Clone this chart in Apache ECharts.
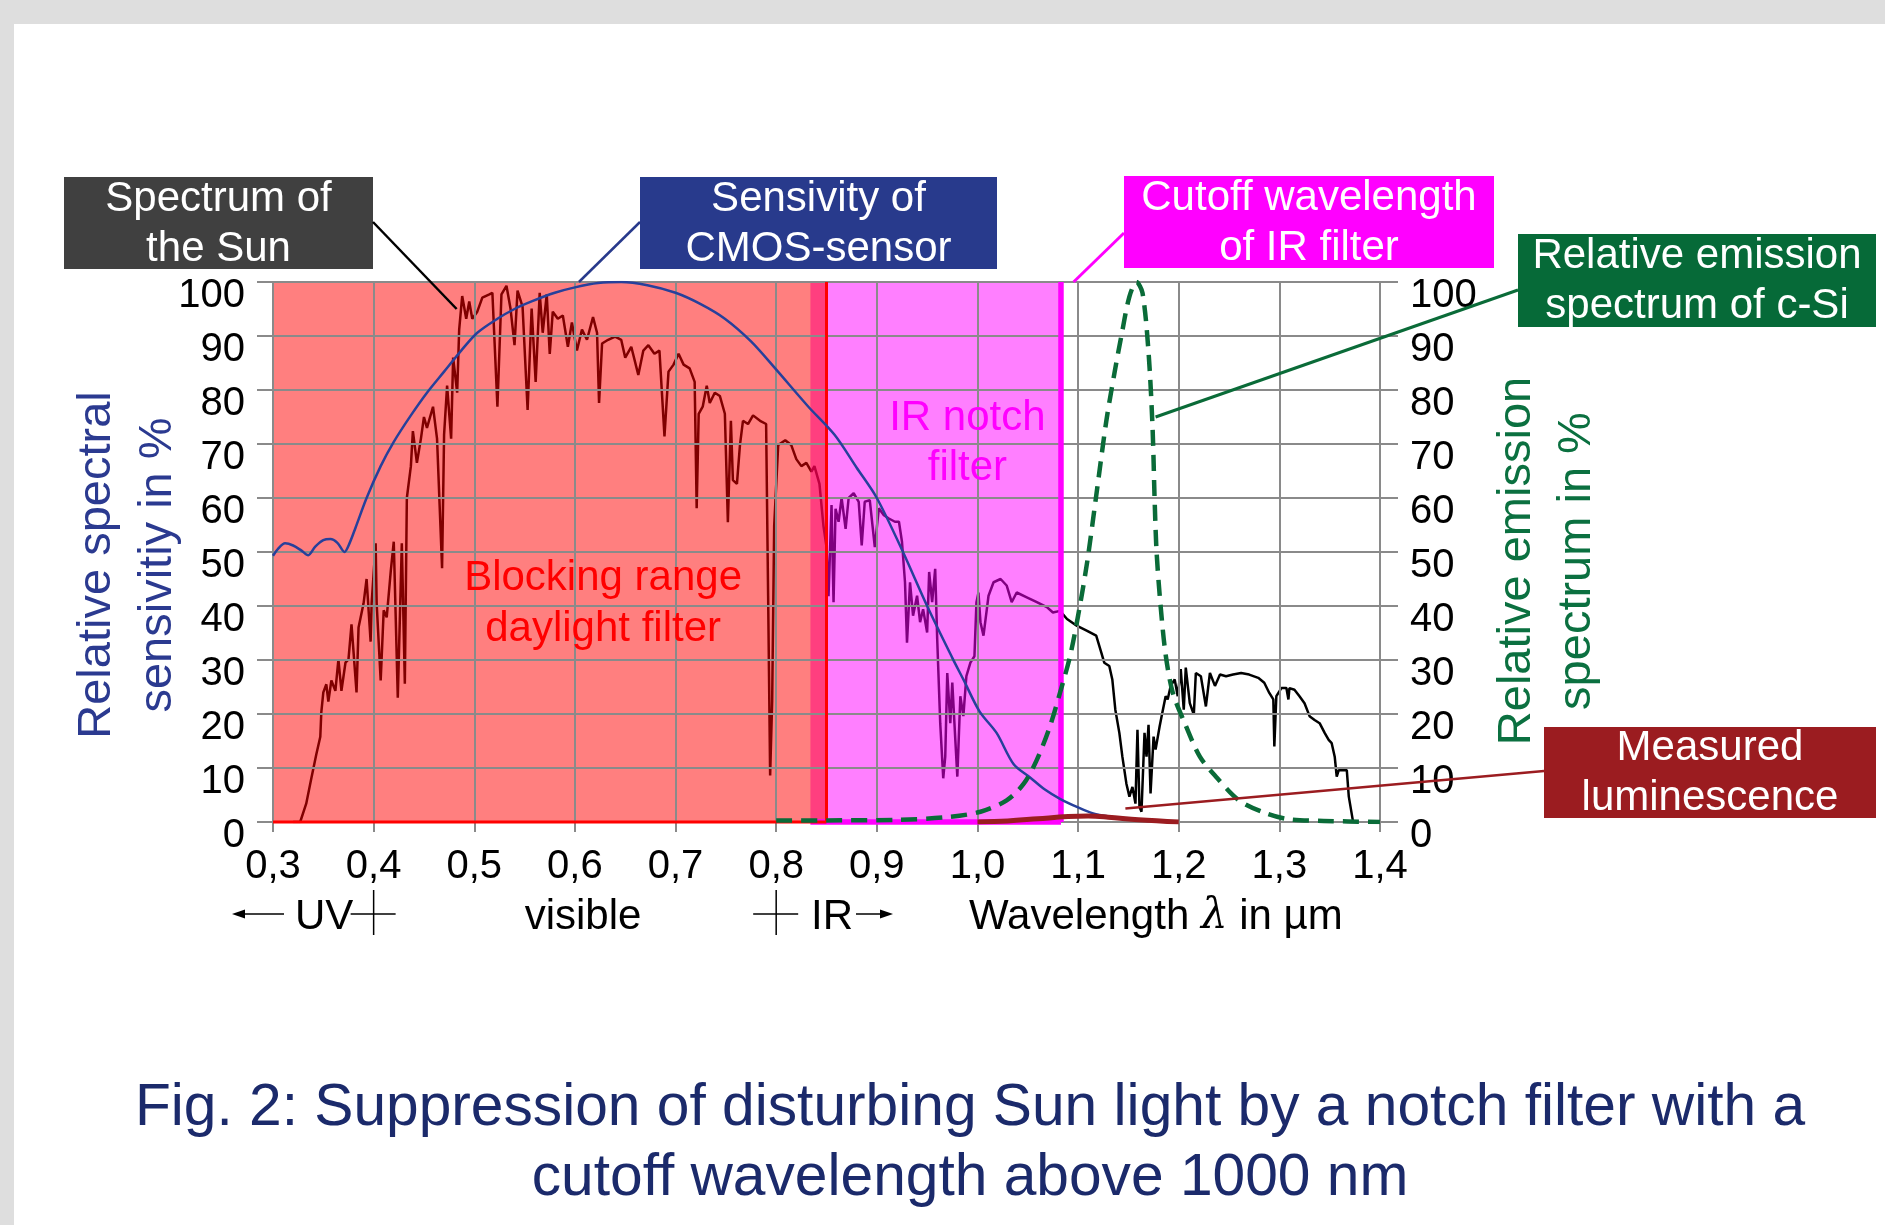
<!DOCTYPE html>
<html>
<head>
<meta charset="utf-8">
<script src="https://cdn.jsdelivr.net/npm/echarts@6/dist/echarts.min.js"></script>
<style>
html,body{margin:0;padding:0;background:#dedede;width:1885px;height:1225px;overflow:hidden;}
#paper{position:absolute;left:14px;top:24px;right:0;bottom:0;background:#fff;}
#chart{position:absolute;left:0;top:0;width:1885px;height:1225px;}
</style>
</head>
<body>
<div id="paper"></div>
<div id="chart"></div>
<script>
// ---------------- data ----------------
const xTickLabels = ['0,3','0,4','0,5','0,6','0,7','0,8','0,9','1,0','1,1','1,2','1,3','1,4'];
const yTickLabels = ['0','10','20','30','40','50','60','70','80','90','100'];

// wavelength (µm), relative value (%)
const sunSpectrum = [
[0.320,0],[0.327,0],[0.333,3.4],[0.338,8],[0.343,12.5],[0.347,15.8],[0.348,20.3],[0.350,24],[0.353,25.5],[0.355,22.3],
[0.358,26.2],[0.362,24.3],[0.365,30.1],[0.368,24.3],[0.372,29.5],[0.375,30.1],[0.378,36.6],[0.383,24],[0.385,36],[0.390,40.5],
[0.393,45],[0.397,33.4],[0.398,40.5],[0.402,51.6],[0.403,40.5],[0.407,26.2],[0.410,39.2],[0.413,37.9],[0.417,46.4],[0.420,51.9],
[0.424,23],[0.428,51.6],[0.431,25.6],[0.433,60],[0.437,65.9],[0.439,72.4],[0.443,66.5],[0.447,71],[0.450,75],[0.453,73],
[0.459,76.9],[0.463,71],[0.468,47],[0.470,71.7],[0.473,80.8],[0.477,71],[0.479,86],[0.483,79.5],[0.485,91.2],[0.488,97.4],
[0.492,93.2],[0.495,96.4],[0.498,93.2],[0.503,94.5],[0.508,97.1],[0.515,97.7],[0.518,98],[0.523,76.9],[0.527,97.7],[0.532,99.3],
[0.536,95.1],[0.540,88.3],[0.543,98.4],[0.548,95.4],[0.553,76.3],[0.557,95.1],[0.561,81.5],[0.565,98],[0.568,90.6],[0.572,97.7],
[0.575,86.7],[0.578,94.5],[0.583,93.2],[0.588,93.8],[0.593,88],[0.597,92.5],[0.602,87.3],[0.607,91.2],[0.612,89.3],[0.618,93.5],
[0.622,90.6],[0.624,77.6],[0.627,88.6],[0.633,89.3],[0.640,89.9],[0.646,89.3],[0.650,86],[0.656,88],[0.663,82.8],[0.668,87.3],
[0.673,88.3],[0.679,86.7],[0.684,87.3],[0.689,71.4],[0.693,83.4],[0.698,84.7],[0.703,86.7],[0.708,84.7],[0.714,84],[0.719,81.5],
[0.721,58.1],[0.723,75.6],[0.727,76.9],[0.731,80.8],[0.734,77.6],[0.739,79.5],[0.744,78.9],[0.749,75.6],[0.752,55.5],[0.755,74.3],
[0.757,63.3],[0.761,62.6],[0.764,69.8],[0.767,74.3],[0.772,73.7],[0.777,75.3],[0.784,74.3],[0.790,73.7],[0.792,41.8],[0.794,8.6],
[0.796,22.3],[0.798,54.8],[0.802,69.8],[0.809,70.7],[0.815,69.8],[0.820,67.2],[0.825,65.9],[0.830,66.5],[0.835,64.9],[0.838,65.9],
[0.843,62.6],[0.847,54.8],[0.850,50.9],[0.852,41.8],[0.855,58.7],[0.857,40.7],[0.859,58],[0.862,55.6],[0.865,60],[0.869,54.3],
[0.872,60],[0.877,60.9],[0.882,59.3],[0.885,51.2],[0.888,59.3],[0.893,59.6],[0.898,50.9],[0.902,58.1],[0.907,56.8],[0.912,56.2],
[0.918,55.6],[0.922,55.6],[0.925,51.9],[0.928,44.4],[0.930,33.2],[0.933,44.4],[0.936,38.2],[0.940,41.9],[0.943,37],[0.946,39.4],
[0.950,35.1],[0.952,46.3],[0.955,40.7],[0.958,46.9],[0.960,33.9],[0.963,18.3],[0.966,8.1],[0.968,12.1],[0.970,27.6],[0.973,18.3],
[0.975,25.8],[0.978,15.2],[0.980,8.4],[0.983,23.3],[0.986,19.6],[0.989,27],[0.993,29.5],[0.997,30.7],[0.999,40.7],[1.001,42.5],
[1.003,37],[1.006,34.5],[1.011,41.9],[1.016,44.4],[1.023,45],[1.029,43.8],[1.034,40.7],[1.039,42.5],[1.049,41.6],[1.059,40.7],
[1.069,39.8],[1.075,38.8],[1.082,39.1],[1.089,37.6],[1.099,36.3],[1.109,35.4],[1.118,34.5],[1.123,31.4],[1.126,29.5],[1.131,28.9],
[1.134,26.4],[1.137,20.8],[1.141,16.5],[1.144,12.1],[1.148,7.1],[1.151,4.7],[1.154,6.5],[1.157,3.4],[1.159,17.1],[1.161,2.8],
[1.163,1.9],[1.166,16.5],[1.168,12.1],[1.170,18],[1.172,5.3],[1.175,15.8],[1.177,13.4],[1.181,17.7],[1.183,19.6],[1.187,23.3],
[1.189,22.7],[1.192,25.2],[1.196,26.4],[1.199,23.3],[1.202,28.3],[1.205,20.8],[1.207,28.6],[1.211,22],[1.215,19.9],[1.217,27.6],
[1.222,27],[1.227,21.4],[1.231,27.6],[1.236,25.2],[1.241,27.3],[1.247,27],[1.254,27.3],[1.262,27.6],[1.270,27.3],[1.279,26.7],
[1.285,25.8],[1.290,23.9],[1.294,22.7],[1.295,14],[1.297,23.3],[1.302,24.8],[1.307,24.8],[1.309,22.7],[1.310,24.8],[1.315,24.5],
[1.320,23.3],[1.325,22],[1.330,19.6],[1.335,18.9],[1.340,18.3],[1.345,16.5],[1.349,15.2],[1.352,14.6],[1.355,12.1],[1.357,8.4],
[1.359,9.6],[1.367,9.6],[1.369,4.7],[1.373,0.3]
];

const cmosSensitivity = [
[0.300,49.3],[0.305,50.6],[0.312,51.6],[0.320,51.2],[0.328,50.3],[0.335,49.4],[0.342,51.0],[0.350,52.2],[0.357,52.4],[0.364,51.7],
[0.371,50.0],[0.376,51.6],[0.382,54.5],[0.393,60],[0.407,65.9],[0.420,70.4],[0.437,75.3],[0.453,79.5],[0.470,83.4],[0.487,87.3],
[0.503,90.6],[0.523,93.2],[0.540,95.0],[0.557,96.4],[0.580,98.0],[0.600,99],[0.623,99.8],[0.646,100],[0.672,99.4],[0.700,98],
[0.725,95.9],[0.749,93.2],[0.775,89.0],[0.799,84],[0.832,76.9],[0.858,71.7],[0.880,65.6],[0.900,60],[0.926,50],[0.950,40],
[0.975,30.4],[0.986,26.4],[1.002,20.5],[1.019,16.5],[1.036,10.7],[1.052,8.3],[1.067,6.0],[1.082,4.3],[1.100,2.7],[1.115,1.6],
[1.135,0.9],[1.150,0.5],[1.170,0.2]
];

const cSiEmission = [
[0.800,0.3],[0.850,0.3],[0.920,0.4],[0.970,0.9],[1.003,1.9],[1.029,4],[1.046,7.1],[1.059,11.5],[1.072,17.7],[1.082,23.9],
[1.092,30.7],[1.100,38.2],[1.109,48.1],[1.119,61.8],[1.128,74.2],[1.136,83],[1.143,90],[1.151,97.3],[1.158,100],[1.164,98],
[1.170,87],[1.174,73],[1.176,60],[1.178,50],[1.182,40],[1.187,31],[1.194,24],[1.206,18.3],[1.221,12.1],[1.237,8.4],
[1.260,4],[1.287,1.6],[1.310,0.5],[1.344,0.2],[1.400,0]
];

const measuredLuminescence = [
[1.000,0],[1.030,0.2],[1.060,0.6],[1.090,1.0],[1.110,1.1],[1.130,0.9],[1.160,0.4],[1.200,0]
];

// wavelength ranges (µm) of the filters, value range 0..100 %
const daylightFilterRange = [[0.300, 0.850, 0, 100]];
const irNotchRange = [[0.834, 1.083, 0, 100]];

// ---------------- chart ----------------
const FONT = '"Liberation Sans", Arial, Helvetica, sans-serif';
const GRID = '#8a8a8a';
const chart = echarts.init(document.getElementById('chart'), null, {renderer:'canvas'});

function fillRender(color){
  return function(params, api){
    const a = api.coord([api.value(0), api.value(3)]);
    const b = api.coord([api.value(1), api.value(2)]);
    return {type:'rect', shape:{x:a[0], y:a[1], width:b[0]-a[0], height:b[1]-a[1]}, style:{fill:color}};
  };
}
function borderRender(color, width){
  return function(params, api){
    const a = api.coord([api.value(0), api.value(3)]);
    const b = api.coord([api.value(1), api.value(2)]);
    return {type:'group', children:[
      {type:'line', shape:{x1:a[0], y1:b[1], x2:b[0], y2:b[1]}, style:{stroke:color, lineWidth:width}},
      {type:'line', shape:{x1:b[0], y1:a[1], x2:b[0], y2:b[1]}, style:{stroke:color, lineWidth:width}}
    ]};
  };
}
function yLabel(margin){
  return {margin:margin, fontSize:40, lineHeight:27, fontFamily:FONT, color:'#000', verticalAlign:'top',
    showMinLabel:true, showMaxLabel:true, hideOverlap:false,
    formatter:function(v){ return yTickLabels[Math.round(v/10)]; }};
}

const option = {
  animation:false,
  backgroundColor:'transparent',
  grid:{left:273, top:282, width:1107, height:540, containLabel:false, outerBoundsMode:'none'},
  xAxis:{
    type:'value', min:0.3, max:1.4, interval:0.1, z:4,
    axisLine:{show:true, onZero:false, lineStyle:{color:GRID, width:2}},
    axisTick:{show:true, length:10, lineStyle:{color:GRID, width:2}},
    axisLabel:{margin:25, fontSize:40, lineHeight:40, fontFamily:FONT, color:'#000',
      showMinLabel:true, showMaxLabel:true, hideOverlap:false,
      formatter:function(v){ return xTickLabels[Math.round((v-0.3)/0.1)]; }},
    splitLine:{show:true, lineStyle:{color:GRID, width:2}}
  },
  yAxis:[
    {type:'value', min:0, max:100, interval:10, position:'left', z:4,
     axisLine:{show:true, lineStyle:{color:GRID, width:2}},
     axisTick:{show:true, length:16, lineStyle:{color:GRID, width:2}},
     axisLabel:yLabel(28),
     splitLine:{show:true, lineStyle:{color:GRID, width:2}}},
    {type:'value', min:0, max:100, interval:10, position:'right', z:4,
     axisLine:{show:true, lineStyle:{color:GRID, width:2}},
     axisTick:{show:true, length:18, lineStyle:{color:GRID, width:2}},
     axisLabel:yLabel(30),
     splitLine:{show:false}}
  ],
  series:[
    {name:'Spectrum of the Sun', type:'line', data:sunSpectrum, showSymbol:false, symbol:'none', z:1,
     lineStyle:{color:'#000', width:2.5}},
    {name:'IR notch filter', type:'custom', data:irNotchRange, encode:{x:[0,1], y:[2,3]}, z:2,
     renderItem:fillRender('rgba(255,0,255,0.5)')},
    {name:'Blocking range daylight filter', type:'custom', data:daylightFilterRange, encode:{x:[0,1], y:[2,3]}, z:3,
     renderItem:fillRender('rgba(255,0,0,0.5)')},
    {name:'IR notch border', type:'custom', data:irNotchRange, encode:{x:[0,1], y:[2,3]}, z:5, clip:false,
     renderItem:borderRender('#ff00ff', 5.5)},
    {name:'Daylight border', type:'custom', data:daylightFilterRange, encode:{x:[0,1], y:[2,3]}, z:5, clip:false,
     renderItem:borderRender('#ff0000', 3)},
    {name:'Sensivity of CMOS-sensor', type:'line', data:cmosSensitivity, showSymbol:false, symbol:'none', z:6, smooth:0.3,
     lineStyle:{color:'#27409b', width:2.5}},
    {name:'Relative emission spectrum of c-Si', type:'line', yAxisIndex:1, data:cSiEmission, showSymbol:false, symbol:'none', z:6, smooth:0.3,
     lineStyle:{color:'#0a6b38', width:4.5, type:[16,9]}},
    {name:'Measured luminescence', type:'line', yAxisIndex:1, data:measuredLuminescence, showSymbol:false, symbol:'none', z:6, smooth:0.4,
     lineStyle:{color:'#9b1c20', width:5}}
  ]
};
chart.setOption(option);

// ---------------- annotations ----------------
function px(x, y){ return chart.convertToPixel({xAxisIndex:0, yAxisIndex:0}, [x, y]); }
function txt(x, y, text, size, color, extra, rotation){
  const st = Object.assign({text:text, fill:color, fontSize:size, fontFamily:FONT,
    align:'center', verticalAlign:'middle', textAlign:'center', textVerticalAlign:'middle'}, extra||{});
  const el = {type:'text', x:x, y:y, z:100, style:st};
  if (rotation) el.rotation = rotation;
  return el;
}
function box(x, y, w, h, fill, text){
  return [
    {type:'rect', z:100, shape:{x:x, y:y, width:w, height:h}, style:{fill:fill}},
    txt(x+w/2, y+h/2+1, text, 42, '#fff', {lineHeight:50})
  ];
}
function leader(from, toData, color, width){
  const p = px(toData[0], toData[1]);
  return {type:'line', z:101, shape:{x1:from[0], y1:from[1], x2:p[0], y2:p[1]}, style:{stroke:color, lineWidth:width}};
}
function cross(xData){
  const p = px(xData, 0);
  return [
    {type:'line', z:100, shape:{x1:p[0], y1:890, x2:p[0], y2:935}, style:{stroke:'#000', lineWidth:1.5}},
    {type:'line', z:100, shape:{x1:p[0]-23, y1:914, x2:p[0]+22, y2:914}, style:{stroke:'#000', lineWidth:1.5}}
  ];
}

const blockC = px(0.628, 40.3);
const notchC = px(0.990, 70.1);
const graphics = [].concat(
  box(64, 177, 309, 92, '#404040', 'Spectrum of\nthe Sun'),
  box(640, 177, 357, 92, '#283a8c', 'Sensivity of\nCMOS-sensor'),
  box(1124, 176, 370, 92, '#ff00ff', 'Cutoff wavelength\nof IR filter'),
  box(1518, 234, 358, 93, '#066a38', 'Relative emission\nspectrum of c-Si'),
  box(1544, 727, 332, 91, '#9b1c20', 'Measured\nluminescence'),
  [
    leader([373, 222], [0.4825, 95], '#000', 2.5),
    leader([640, 222], [0.604, 100], '#283a8c', 2.5),
    leader([1124, 233], [1.0955, 100], '#ff00ff', 3),
    leader([1518, 290], [1.177, 75], '#0a6b38', 3),
    leader([1544, 771], [1.147, 2.5], '#9b1c20', 2.5),
    txt(blockC[0], blockC[1], 'Blocking range\ndaylight filter', 42, '#ff0000', {lineHeight:51}),
    txt(notchC[0], notchC[1], 'IR notch\nfilter', 42, '#ff00ff', {lineHeight:50}),
    txt(128, 565, 'Relative spectral\nsensivitiy in %', 47, '#2b3a90', {lineHeight:61}, Math.PI/2),
    txt(1547, 561, 'Relative emission\nspectrum in %', 47, '#0b7040', {lineHeight:60}, Math.PI/2),
    // second axis row
    {type:'line', z:100, shape:{x1:242, y1:914, x2:284, y2:914}, style:{stroke:'#000', lineWidth:1.5}},
    {type:'polygon', z:100, shape:{points:[[232,914],[245,909.5],[245,918.5]]}, style:{fill:'#000'}},
    txt(295, 917, 'UV', 42, '#000', {align:'left', textAlign:'left'}),
    txt(583, 917, 'visible', 42, '#000'),
    txt(811, 917, 'IR', 42, '#000', {align:'left', textAlign:'left'}),
    {type:'line', z:100, shape:{x1:856, y1:914, x2:882, y2:914}, style:{stroke:'#000', lineWidth:1.5}},
    {type:'polygon', z:100, shape:{points:[[893,914],[880,909.5],[880,918.5]]}, style:{fill:'#000'}},
    txt(969, 917, 'Wavelength {l|λ} in µm', 42, '#000', {align:'left', textAlign:'left',
      rich:{l:{fontSize:42, fontFamily:'"DejaVu Serif", "Liberation Serif", serif', fontStyle:'italic', fill:'#000', color:'#000'}}}),
    // caption
    txt(970, 1144, 'Fig. 2: Suppression of disturbing Sun light by a notch filter with a\ncutoff wavelength above 1000 nm', 58.7, '#1b2a6b', {lineHeight:70})
  ],
  cross(0.4),
  cross(0.8)
);
chart.setOption({graphic:{elements:graphics}});
</script>
</body>
</html>
